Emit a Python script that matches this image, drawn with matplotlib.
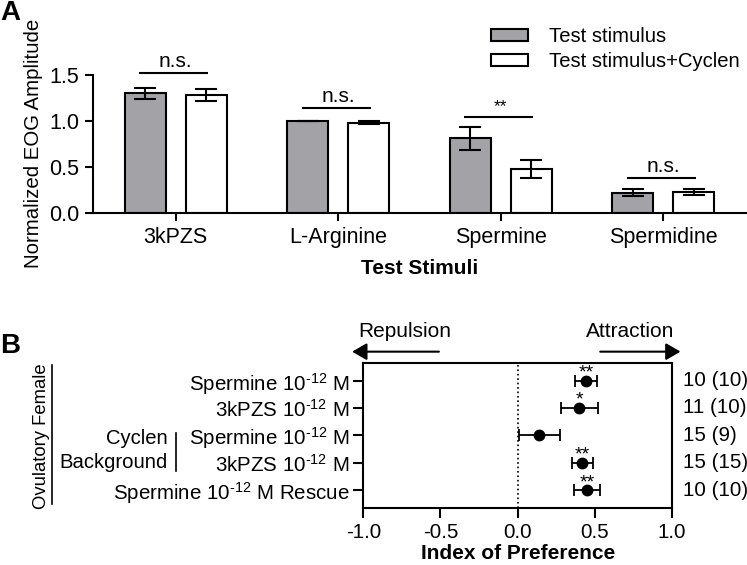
import numpy as np
import matplotlib
matplotlib.use('Agg')
import matplotlib.pyplot as plt
from matplotlib.lines import Line2D
import matplotlib.transforms as mtransforms

plt.rcParams['font.family'] = ['Liberation Sans', 'DejaVu Sans']
plt.rcParams['mathtext.fontset'] = 'custom'
plt.rcParams['mathtext.rm'] = 'Liberation Sans'
plt.rcParams['mathtext.it'] = 'Liberation Sans'
plt.rcParams['axes.unicode_minus'] = False

# ============================================================
# DATA
# ============================================================
# panel A - EOG
stimuli      = ['3kPZS', 'L-Arginine', 'Spermine', 'Spermidine']
test_mean    = [1.30, 1.00, 0.81, 0.22]
test_sem     = [0.06, 0.00, 0.123, 0.04]
cyclen_mean  = [1.28, 0.98, 0.476, 0.225]
cyclen_sem   = [0.068, 0.015, 0.095, 0.033]
sig_labels   = ['n.s.', 'n.s.', '**', 'n.s.']
sig_heights  = [1.52, 1.14, 1.046, 0.375]

# panel B - preference index
sup = r'10$^{\text{-12}}$'
pref_labels  = ['Spermine ' + sup + ' M', '3kPZS ' + sup + ' M',
                'Spermine ' + sup + ' M', '3kPZS ' + sup + ' M',
                'Spermine ' + sup + ' M Rescue']
pref_mean    = [0.443, 0.40, 0.14, 0.42, 0.451]
pref_sem     = [0.071, 0.122, 0.133, 0.068, 0.083]
pref_stars   = ['**', '*', '', '**', '**']
pref_n       = ['10 (10)', '11 (10)', '15 (9)', '15 (15)', '10 (10)']

W, H = 747, 565
fig = plt.figure(figsize=(W / 100, H / 100), dpi=100)

def fx(px):
    return px / W

def fy(py):
    return 1 - py / H

lw = 1.5

# ============================================================
# PANEL A
# ============================================================
axA = fig.add_axes([fx(93), fy(212.7), fx(746) - fx(93), fy(29.1) - fy(212.7)])
x = np.arange(len(stimuli))
off = 0.188
bw = 0.252
axA.bar(x - off, test_mean, bw, color='#a3a3a7', edgecolor='black',
        linewidth=lw, label='Test stimulus', zorder=2)
axA.bar(x + off, cyclen_mean, bw, color='white', edgecolor='black',
        linewidth=lw, label='Test stimulus+Cyclen', zorder=2)
axA.errorbar(x - off, test_mean, yerr=test_sem, fmt='none', ecolor='black',
             elinewidth=lw, capsize=8, capthick=lw, zorder=3)
axA.errorbar(x + off, cyclen_mean, yerr=cyclen_sem, fmt='none', ecolor='black',
             elinewidth=lw, capsize=8, capthick=lw, zorder=3)

for i, (lab, h) in enumerate(zip(sig_labels, sig_heights)):
    axA.plot([i - 0.225, i + 0.2], [h, h], color='black', lw=lw,
             clip_on=False, solid_capstyle='butt')
    if lab == '**':
        axA.text(i, h + 0.03, lab, ha='center', va='bottom', fontsize=12.5)
    else:
        axA.text(i, h + 0.02, lab, ha='center', va='bottom', fontsize=15)

axA.set_xlim(-0.51, 3.51)
axA.set_ylim(0, 2.0)
axA.set_yticks([0, 0.5, 1.0, 1.5])
axA.set_yticklabels(['0.0', '0.5', '1.0', '1.5'])
axA.set_xticks(x)
axA.set_xticklabels(stimuli)
axA.spines['top'].set_visible(False)
axA.spines['right'].set_visible(False)
axA.spines['left'].set_bounds(0, 1.5)
for s in ['left', 'bottom']:
    axA.spines[s].set_linewidth(lw)
axA.tick_params(axis='both', width=lw, length=6, labelsize=15.5, pad=4)
axA.set_xlabel('Test Stimuli', fontsize=15, fontweight='bold', labelpad=8)
axA.set_ylabel('Normalized EOG Amplitude', fontsize=14.7)
axA.yaxis.set_label_coords(-0.077, 0.377)
axA.legend(loc='upper left', bbox_to_anchor=(fx(491), fy(27)),
           bbox_transform=fig.transFigure, frameon=False, fontsize=14.6,
           handlelength=1.8, handleheight=0.5, handletextpad=1.05,
           labelspacing=0.3, borderpad=0, borderaxespad=0)

fig.text(fx(0), fy(20.5), 'A', fontsize=20, fontweight='bold', va='baseline')

# ============================================================
# PANEL B
# ============================================================
axB = fig.add_axes([fx(363.3), fy(508), fx(672) - fx(363.3), fy(362.7) - fy(508)])
rows = np.arange(len(pref_labels))
axB.errorbar(pref_mean, rows, xerr=pref_sem, fmt='o', color='black',
             markersize=7.5, elinewidth=1.3, capsize=4, capthick=1.3)
for r, (m, s) in enumerate(zip(pref_mean, pref_stars)):
    if s:
        axB.annotate(s, (m, r), xytext=(0, 5.5), textcoords='offset points',
                     ha='center', va='center', fontsize=14)
axB.axvline(0, color='black', linestyle=':', linewidth=1.2)
axB.set_xlim(-1.0, 1.0)
axB.set_ylim(4.65, -0.65)
axB.set_xticks([-1.0, -0.5, 0.0, 0.5, 1.0])
axB.set_xticklabels(['-1.0', '-0.5', '0.0', '0.5', '1.0'])
axB.set_yticks(rows)
axB.set_yticklabels(pref_labels)
for s in axB.spines.values():
    s.set_linewidth(lw)
axB.tick_params(axis='both', width=lw, length=7, labelsize=14.8)
axB.tick_params(axis='x', pad=4)
axB.tick_params(axis='y', pad=3)
axB.set_xlabel('Index of Preference', fontsize=15, fontweight='bold', labelpad=1)

trans = mtransforms.blended_transform_factory(axB.transAxes, axB.transData)
for r, n in enumerate(pref_n):
    axB.text(1.036, r, n, transform=trans, ha='left', va='center', fontsize=14.8)

# arrows and labels above panel B
transA = mtransforms.blended_transform_factory(axB.transData, axB.transAxes)
arrow_kw = dict(arrowstyle='-|>,head_length=0.55,head_width=0.32', color='black',
                lw=1.5, mutation_scale=16, shrinkA=0, shrinkB=0)
axB.annotate('', xy=(-1.072, 1.076), xytext=(-0.51, 1.076),
             xycoords=transA, textcoords=transA, arrowprops=arrow_kw)
axB.annotate('', xy=(1.055, 1.076), xytext=(0.535, 1.076),
             xycoords=transA, textcoords=transA, arrowprops=arrow_kw)
axB.text(-0.733, 1.213, 'Repulsion', transform=transA, ha='center',
         va='center', fontsize=15)
axB.text(0.73, 1.213, 'Attraction', transform=transA, ha='center',
         va='center', fontsize=15)

# group annotations
fig.text(fx(168), fy(438), 'Cyclen', ha='right', va='center', fontsize=14.6)
fig.text(fx(168), fy(463), 'Background', ha='right', va='center', fontsize=14.6)
fig.add_artist(Line2D([fx(175.7), fx(175.7)], [fy(433), fy(470.7)],
                      color='black', lw=1.2, transform=fig.transFigure))
fig.text(fx(41.7), fy(436), 'Ovulatory Female', rotation=90, ha='center',
         va='center', fontsize=13.3)
fig.add_artist(Line2D([fx(52.3), fx(52.3)], [fy(365), fy(504)],
                      color='black', lw=1.2, transform=fig.transFigure))

fig.text(fx(0), fy(353), 'B', fontsize=20, fontweight='bold', va='baseline')

plt.savefig('out.png', dpi=100)
